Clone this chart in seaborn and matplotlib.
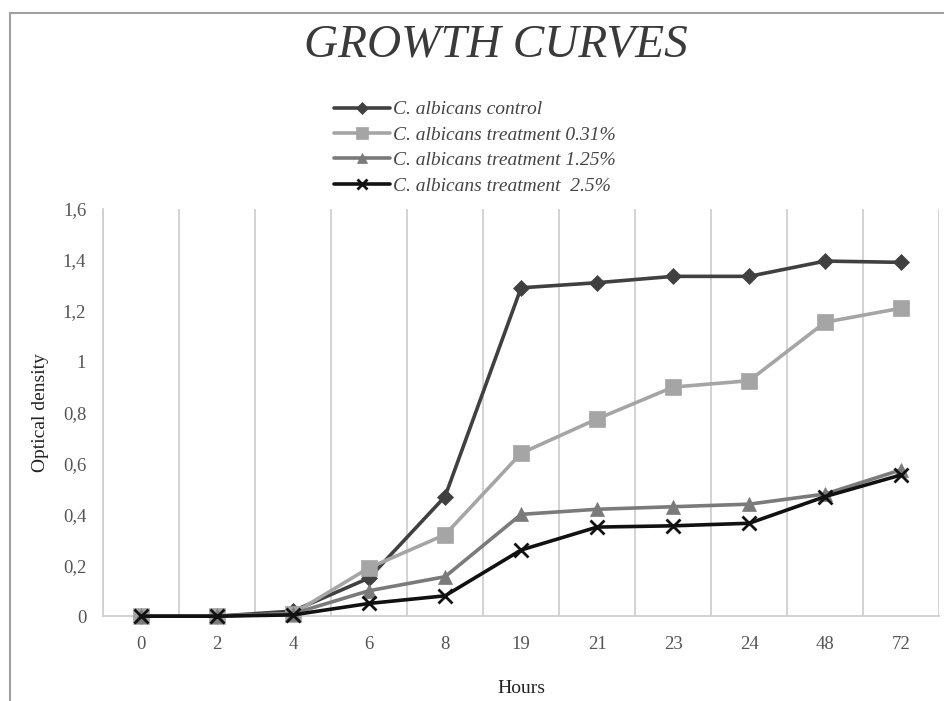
import matplotlib
matplotlib.use("Agg")
import matplotlib.pyplot as plt
import seaborn as sns
import numpy as np
import pandas as pd
from matplotlib.lines import Line2D

hours = ["0", "2", "4", "6", "8", "19", "21", "23", "24", "48", "72"]
control = [0, 0, 0.02, 0.15, 0.47, 1.29, 1.31, 1.335, 1.335, 1.395, 1.39]
treat_031 = [0, 0, 0.01, 0.19, 0.32, 0.64, 0.775, 0.90, 0.925, 1.155, 1.21]
treat_125 = [0, 0, 0.01, 0.10, 0.155, 0.40, 0.42, 0.43, 0.44, 0.48, 0.575]
treat_25 = [0, 0, 0.005, 0.05, 0.08, 0.26, 0.35, 0.355, 0.365, 0.47, 0.555]
series_names = ["C. albicans control", "C. albicans treatment 0.31%",
                "C. albicans treatment 1.25%", "C. albicans treatment  2.5%"]
yticks = [0, 0.2, 0.4, 0.6, 0.8, 1.0, 1.2, 1.4, 1.6]
ytick_labels = ["0", "0,2", "0,4", "0,6", "0,8", "1", "1,2", "1,4", "1,6"]

colors = ["#404040", "#a5a5a5", "#7a7a7a", "#111111"]
markers = ["D", "s", "^", "x"]
msizes = [8, 11, 10, 10]

rows = []
for name, vals in zip(series_names, [control, treat_031, treat_125, treat_25]):
    for i, (h, v) in enumerate(zip(hours, vals)):
        rows.append({"series": name, "pos": i, "hour": h, "od": v})
df = pd.DataFrame(rows)

sns.set_style("white")
plt.rcParams["font.family"] = ["Liberation Serif", "DejaVu Serif"]

fig = plt.figure(figsize=(9.44, 7.01), dpi=100)
ax = fig.add_axes([0.109, 0.121, 0.886, 0.581])

for name, c, m, ms in zip(series_names, colors, markers, msizes):
    sub = df[df["series"] == name]
    sns.lineplot(data=sub, x="pos", y="od", ax=ax, color=c, linewidth=2.6,
                 marker=m, markersize=ms, markeredgewidth=2 if m == "x" else 0.5,
                 markeredgecolor=c, legend=False, clip_on=False, zorder=3)

ax.set_xlim(-0.5, len(hours) - 0.5)
ax.set_ylim(0, 1.6)
ax.set_xticks(range(len(hours)))
ax.set_xticklabels(hours)
ax.set_yticks(yticks)
ax.set_yticklabels(ytick_labels)
ax.set_xticks(np.arange(-0.5, len(hours), 1.0), minor=True)
ax.grid(False)
ax.grid(True, which="minor", axis="x", color="#d0d0d0", linewidth=1.3)
ax.tick_params(axis="both", which="both", length=0, labelsize=13.5, labelcolor="#555555")
ax.tick_params(axis="x", pad=14)
ax.tick_params(axis="y", pad=12)
for s in ["top", "right"]:
    ax.spines[s].set_visible(False)
for s in ["left", "bottom"]:
    ax.spines[s].set_color("#d0d0d0")
    ax.spines[s].set_linewidth(1.3)
ax.set_xlabel("Hours", fontsize=14, color="#222222", labelpad=20)
ax.set_ylabel("Optical density", fontsize=14, color="#222222", labelpad=10)

fig.text(0.525, 0.935, "GROWTH CURVES", ha="center", va="center",
         fontsize=34, style="italic", color="#3a3a3a")

handles = [Line2D([0], [0], color=c, marker=m, markersize=ms * 0.75, linewidth=2.6,
                  markeredgewidth=2 if m == "x" else 0.5, markeredgecolor=c)
           for c, m, ms in zip(colors, markers, msizes)]
fig.legend(handles, series_names, loc="upper left", bbox_to_anchor=(0.343, 0.870),
           frameon=False, prop={"style": "italic", "size": 14}, labelcolor="#444444",
           handlelength=2.9, handletextpad=0.15, labelspacing=0.4, borderpad=0)

fig.add_artist(Line2D([0.011, 1.0], [1 - 13 / 701, 1 - 13 / 701],
                      transform=fig.transFigure, color="#a0a0a0", linewidth=1.5))
fig.add_artist(Line2D([0.011, 0.011], [0.0, 1 - 13 / 701],
                      transform=fig.transFigure, color="#a0a0a0", linewidth=1.5))

fig.savefig("out.png", dpi=100)
